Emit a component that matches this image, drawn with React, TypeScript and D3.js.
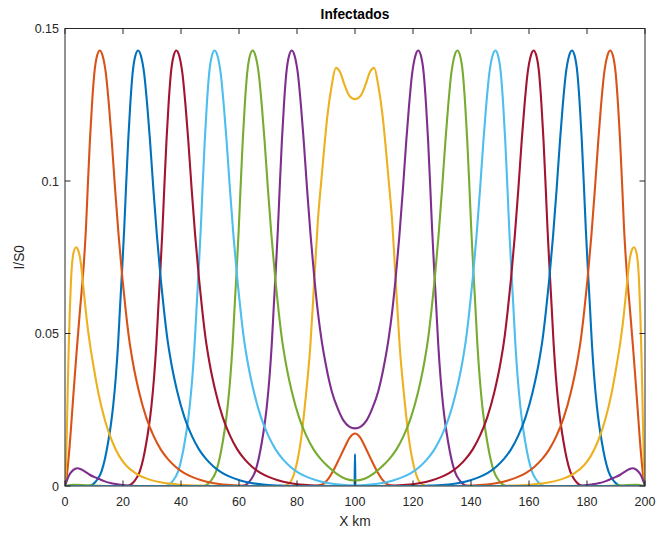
import React, { useEffect, useRef } from 'react';
import * as d3 from 'd3';

const width = 657;
const height = 534;
const margin = { left: 65, right: 12, top: 28.5, bottom: 48 };

// MATLAB default colour order, one colour per snapshot
const COLORS = ['#0072BD', '#D95319', '#EDB120', '#7E2F8E', '#77AC30', '#4DBEEE', '#A2142F'];

const xTicks = [0, 20, 40, 60, 80, 100, 120, 140, 160, 180, 200];
const yTicks = [0, 0.05, 0.1, 0.15];
const yTickLabels = ['0', '0.05', '0.1', '0.15'];

// the profile is symmetric about x = 100 km: left half (x km, I/S0)
const snap1 = [[0, 0], [99.85, 0], [100, 0.0105]];
const snap2 = [[0, 0], [86, 0], [88.5, 0.0004], [90.5, 0.002], [92.5, 0.005], [94.5, 0.0088], [96.5, 0.0128], [98.3, 0.016], [100, 0.0172]];
const snap3 = [[0, 0], [75, 0], [77, 0.0006], [79, 0.004], [80.3, 0.009], [81.4, 0.0154], [83, 0.029], [84.6, 0.046], [86, 0.068], [87.2, 0.087], [88.4, 0.1003], [89.5, 0.112], [90.5, 0.1215], [91.9, 0.1309], [93.4, 0.1371], [94.8, 0.1358], [96.4, 0.1315], [98, 0.128], [100, 0.1268]];
const snap4 = [[0, 0], [61.2, 0], [62.7, 0.0006], [64.2, 0.0022], [65.6, 0.0048], [66.8, 0.009], [67.9, 0.0145], [68.8, 0.02], [69.6, 0.0262], [70.5, 0.0355], [71.3, 0.0465], [72.0, 0.059], [72.7, 0.071], [73.4, 0.084], [74.0, 0.097], [74.8, 0.1134], [75.5, 0.125], [76.3, 0.1352], [77.3, 0.1412], [78.2, 0.1428], [79.2, 0.141], [80.3, 0.1352], [81.4, 0.1243], [82.3, 0.1134], [83.5, 0.097], [84.7, 0.082], [86.0, 0.068], [87.2, 0.057], [88.3, 0.049], [89.9, 0.04], [92.0, 0.031], [94.0, 0.0255], [96.0, 0.0215], [98.0, 0.0195], [100, 0.0189]];
const snap5 = [[0, 0], [47.7, 0], [49.2, 0.0006], [50.7, 0.0022], [52.1, 0.0048], [53.3, 0.009], [54.4, 0.0145], [55.3, 0.02], [56.1, 0.0262], [57.0, 0.0355], [57.8, 0.0465], [58.5, 0.059], [59.2, 0.071], [59.9, 0.084], [60.5, 0.097], [61.3, 0.1134], [62.0, 0.125], [62.8, 0.1352], [63.8, 0.1412], [64.7, 0.1428], [65.7, 0.141], [66.8, 0.1352], [67.9, 0.1243], [68.8, 0.1134], [70.0, 0.097], [71.2, 0.082], [72.5, 0.068], [73.7, 0.057], [74.7, 0.049], [76.2, 0.04], [78.2, 0.031], [80.7, 0.0225], [83.2, 0.0165], [85.7, 0.012], [88.2, 0.0088], [90.7, 0.0064], [93.7, 0.004], [96.7, 0.0024], [100, 0.0018]];
const snap6 = [[0, 0], [34.6, 0], [36.1, 0.0006], [37.6, 0.0022], [39.0, 0.0048], [40.2, 0.009], [41.3, 0.0145], [42.2, 0.02], [43.0, 0.0262], [43.9, 0.0355], [44.7, 0.0465], [45.4, 0.059], [46.1, 0.071], [46.8, 0.084], [47.4, 0.097], [48.2, 0.1134], [48.9, 0.125], [49.7, 0.1352], [50.7, 0.1412], [51.6, 0.1428], [52.6, 0.141], [53.7, 0.1352], [54.8, 0.1243], [55.7, 0.1134], [56.9, 0.097], [58.1, 0.082], [59.4, 0.068], [60.6, 0.057], [61.6, 0.049], [63.1, 0.04], [65.1, 0.031], [67.6, 0.0225], [70.1, 0.0165], [72.6, 0.012], [75.1, 0.0088], [77.6, 0.0064], [80.6, 0.0043], [83.6, 0.0029], [86.6, 0.0019], [90.6, 0.001], [95.6, 0.0004], [100, 0.0002]];
const snap7 = [[0, 0], [21.4, 0], [22.9, 0.0006], [24.4, 0.0022], [25.8, 0.0048], [27.0, 0.009], [28.1, 0.0145], [29.0, 0.02], [29.8, 0.0262], [30.7, 0.0355], [31.5, 0.0465], [32.2, 0.059], [32.9, 0.071], [33.6, 0.084], [34.2, 0.097], [35.0, 0.1134], [35.7, 0.125], [36.5, 0.1352], [37.5, 0.1412], [38.4, 0.1428], [39.4, 0.141], [40.5, 0.1352], [41.6, 0.1243], [42.5, 0.1134], [43.7, 0.097], [44.9, 0.082], [46.2, 0.068], [47.4, 0.057], [48.4, 0.049], [49.9, 0.04], [51.9, 0.031], [54.4, 0.0225], [56.9, 0.0165], [59.4, 0.012], [61.9, 0.0088], [64.4, 0.0064], [67.4, 0.0043], [70.4, 0.0029], [73.4, 0.0019], [77.4, 0.001], [82.4, 0.0004], [88.4, 0.0001], [94.4, 0], [100, 0]];
const snap8 = [[0, 0], [8.2, 0], [9.7, 0.0006], [11.2, 0.0022], [12.6, 0.0048], [13.8, 0.009], [14.9, 0.0145], [15.8, 0.02], [16.6, 0.0262], [17.5, 0.0355], [18.3, 0.0465], [19.0, 0.059], [19.7, 0.071], [20.4, 0.084], [21.0, 0.097], [21.8, 0.1134], [22.5, 0.125], [23.3, 0.1352], [24.3, 0.1412], [25.2, 0.1428], [26.2, 0.141], [27.3, 0.1352], [28.4, 0.1243], [29.3, 0.1134], [30.5, 0.097], [31.7, 0.082], [33.0, 0.068], [34.2, 0.057], [35.2, 0.049], [36.7, 0.04], [38.7, 0.031], [41.2, 0.0225], [43.7, 0.0165], [46.2, 0.012], [48.7, 0.0088], [51.2, 0.0064], [54.2, 0.0043], [57.2, 0.0029], [60.2, 0.0019], [64.2, 0.001], [69.2, 0.0004], [75.2, 0.0001], [81.2, 0], [100, 0]];
const snap9 = [[0, 0], [0.7, 0.004], [1.5, 0.012], [2.9, 0.03], [4.0, 0.044], [5.2, 0.058], [6.5, 0.073], [7.2, 0.084], [7.8, 0.097], [8.6, 0.1134], [9.3, 0.125], [10.1, 0.1352], [11.1, 0.1412], [12.0, 0.1428], [13.0, 0.141], [14.1, 0.1352], [15.2, 0.1243], [16.1, 0.1134], [17.3, 0.097], [18.5, 0.082], [19.8, 0.068], [21.0, 0.057], [22.0, 0.049], [23.5, 0.04], [25.5, 0.031], [28.0, 0.0225], [30.5, 0.0165], [33.0, 0.012], [35.5, 0.0088], [38.0, 0.0064], [41.0, 0.0043], [44.0, 0.0029], [47.0, 0.0019], [51.0, 0.001], [56.0, 0.0004], [62.0, 0.0001], [68, 0], [100, 0]];
const snap10 = [[0, 0], [0.4, 0.008], [0.8, 0.025], [1.14, 0.04], [1.6, 0.056], [2.07, 0.0675], [2.9, 0.0763], [3.8, 0.0783], [4.6, 0.0772], [5.4, 0.0735], [6.3, 0.0655], [7.5, 0.0545], [8.6, 0.0465], [9.8, 0.0395], [11.5, 0.0305], [13.8, 0.0215], [16.1, 0.015], [18.7, 0.0098], [21, 0.0068], [24, 0.0044], [28, 0.0025], [33, 0.0012], [40, 0.0004], [48, 0.0001], [55, 0], [100, 0]];
const snap11 = [[0, 0], [0.8, 0.0022], [1.7, 0.004], [2.8, 0.0052], [4.2, 0.0058], [5.5, 0.0055], [6.9, 0.0047], [8.5, 0.0037], [10, 0.003], [11.5, 0.0024], [13.5, 0.0016], [16, 0.0009], [18.5, 0.0005], [21, 0.0002], [25, 0], [100, 0]];
const snap12 = [[0, 0], [3, 0.0004], [8, 0.0002], [15, 0], [100, 0]];
const snap13 = [[0, 0], [100, 0]];

const snapshots = [snap1, snap2, snap3, snap4, snap5, snap6, snap7, snap8, snap9, snap10, snap11, snap12, snap13];

function mirror(half: number[][]) {
  const right = half.filter(d => d[0] < 100).reverse().map(d => [200 - d[0], d[1]]);
  return half.concat(right);
}

const App = () => {
  const ref = useRef<SVGSVGElement>(null);

  useEffect(() => {
    const svg = d3.select(ref.current);
    svg.selectAll('*').remove();

    const x = d3.scaleLinear().domain([0, 200]).range([margin.left, width - margin.right]);
    const y = d3.scaleLinear().domain([0, 0.15]).range([height - margin.bottom, margin.top]);
    const font = '"Liberation Sans", Arial, Helvetica, sans-serif';
    const axisColor = '#262626';

    svg.append('rect').attr('width', width).attr('height', height).attr('fill', '#fff');

    const line = d3.line<number[]>()
      .x(d => x(d[0]))
      .y(d => y(d[1]))
      .curve(d3.curveMonotoneX);

    const clip = svg.append('clipPath').attr('id', 'plotclip');
    clip.append('rect')
      .attr('x', margin.left).attr('y', margin.top - 2)
      .attr('width', width - margin.left - margin.right)
      .attr('height', height - margin.top - margin.bottom + 2);

    const g = svg.append('g').attr('clip-path', 'url(#plotclip)');
    snapshots.forEach((half, i) => {
      g.append('path')
        .attr('d', line(mirror(half)))
        .attr('fill', 'none')
        .attr('stroke', COLORS[i % COLORS.length])
        .attr('stroke-width', 2.1)
        .attr('stroke-linejoin', 'round');
    });

    // box and ticks
    const x0 = x(0), x1 = x(200), y0 = y(0), y1 = y(0.15);
    svg.append('rect')
      .attr('x', x0).attr('y', y1).attr('width', x1 - x0).attr('height', y0 - y1)
      .attr('fill', 'none').attr('stroke', axisColor).attr('stroke-width', 1);

    const tl = 5.5;
    xTicks.forEach(t => {
      const px = x(t);
      svg.append('line').attr('x1', px).attr('x2', px).attr('y1', y0).attr('y2', y0 - tl)
        .attr('stroke', axisColor);
      svg.append('line').attr('x1', px).attr('x2', px).attr('y1', y1).attr('y2', y1 + tl)
        .attr('stroke', axisColor);
      svg.append('text').attr('x', px).attr('y', y0 + 20)
        .attr('text-anchor', 'middle').attr('font-family', font).attr('font-size', 12.5)
        .attr('fill', axisColor).text(String(t));
    });
    yTicks.forEach((t, i) => {
      const py = y(t);
      svg.append('line').attr('x1', x0).attr('x2', x0 + tl).attr('y1', py).attr('y2', py)
        .attr('stroke', axisColor);
      svg.append('line').attr('x1', x1).attr('x2', x1 - tl).attr('y1', py).attr('y2', py)
        .attr('stroke', axisColor);
      svg.append('text').attr('x', x0 - 6).attr('y', py + 4.5)
        .attr('text-anchor', 'end').attr('font-family', font).attr('font-size', 12.5)
        .attr('fill', axisColor).text(yTickLabels[i]);
    });

    svg.append('text').attr('x', (x0 + x1) / 2).attr('y', 19)
      .attr('text-anchor', 'middle').attr('font-family', font).attr('font-size', 13.75)
      .attr('font-weight', 'bold').attr('fill', '#000').text('Infectados');
    svg.append('text').attr('x', (x0 + x1) / 2).attr('y', y0 + 40)
      .attr('text-anchor', 'middle').attr('font-family', font).attr('font-size', 13.75)
      .attr('fill', axisColor).text('X km');
    svg.append('text')
      .attr('transform', `translate(24,${(y0 + y1) / 2}) rotate(-90)`)
      .attr('text-anchor', 'middle').attr('font-family', font).attr('font-size', 13.75)
      .attr('fill', axisColor).text('I/S0');
  }, []);

  return (
    <svg ref={ref} width={width} height={height}
      style={{ position: 'absolute', left: 0, top: 0 }} />
  );
};

export default App;
